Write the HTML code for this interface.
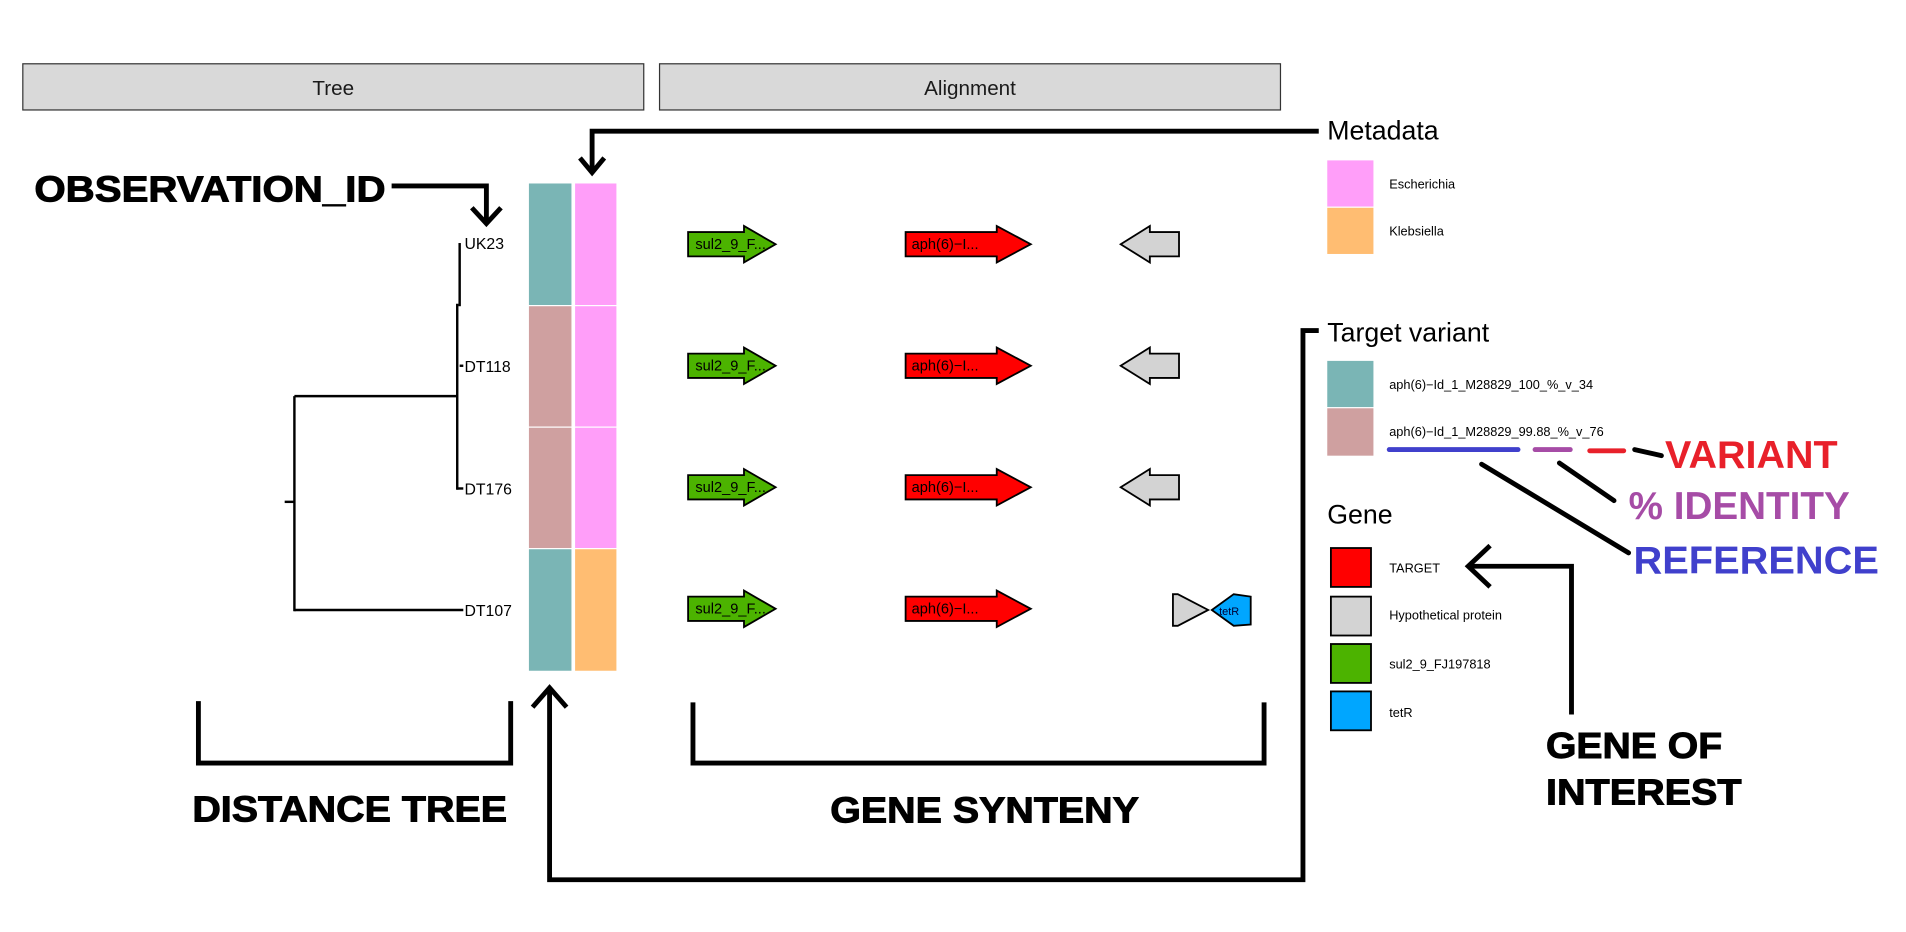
<!DOCTYPE html>
<html><head><meta charset="utf-8"><style>html,body{margin:0;padding:0;background:#fff;overflow:hidden}svg{display:block}</style></head>
<body>
<svg width="1906" height="932" viewBox="0 0 1568 767" xmlns="http://www.w3.org/2000/svg" font-family="'Liberation Sans', sans-serif">
<rect width="1568" height="767" fill="#fff"/>
<rect x="18.5" y="52.5" width="511" height="38" fill="#d9d9d9" stroke="#333" stroke-width="1"/>
<text x="274" y="78" font-size="17" text-anchor="middle" fill="#1a1a1a">Tree</text>
<rect x="542.5" y="52.5" width="511" height="38" fill="#d9d9d9" stroke="#333" stroke-width="1"/>
<text x="798" y="78" font-size="17" text-anchor="middle" fill="#1a1a1a">Alignment</text>

<polyline points="1085,108 487,108 487,142" fill="none" stroke="#000" stroke-width="4"/>
<polyline points="477,130 487,142 497,130" fill="none" stroke="#000" stroke-width="4"/>
<text x="28" y="166" font-size="30" font-weight="bold" stroke="#000" stroke-width="0.8" textLength="289" lengthAdjust="spacingAndGlyphs">OBSERVATION_ID</text>
<polyline points="322,153 400,153 400,184" fill="none" stroke="#000" stroke-width="4"/>
<polyline points="388,171 400,184 412,171" fill="none" stroke="#000" stroke-width="4"/>

<g stroke="#000" stroke-width="2" fill="none">
<line x1="234" y1="413" x2="242" y2="413"/>
<line x1="242" y1="326" x2="242" y2="503"/>
<line x1="242" y1="326" x2="376" y2="326"/>
<line x1="242" y1="502" x2="381" y2="502"/>
<line x1="376" y1="250" x2="376" y2="403"/>
<line x1="378" y1="200" x2="378" y2="252"/>
<line x1="376" y1="402" x2="381" y2="402"/>
<line x1="378" y1="301" x2="381" y2="301"/>
</g>
<g font-size="13" fill="#000">
<text x="382" y="205">UK23</text>
<text x="382" y="306">DT118</text>
<text x="382" y="407">DT176</text>
<text x="382" y="507">DT107</text>
</g>

<rect x="435" y="151" width="35" height="100" fill="#7ab5b5"/>
<rect x="435" y="252" width="35" height="99" fill="#cfa0a0"/>
<rect x="435" y="352" width="35" height="99" fill="#cfa0a0"/>
<rect x="435" y="452" width="35" height="100" fill="#7ab5b5"/>
<rect x="473" y="151" width="34" height="100" fill="#ff9ef9"/>
<rect x="473" y="252" width="34" height="99" fill="#ff9ef9"/>
<rect x="473" y="352" width="34" height="99" fill="#ff9ef9"/>
<rect x="473" y="452" width="34" height="100" fill="#ffbd72"/>

<defs>
<g id="row">
<polygon points="566,-10 612,-10 612,-15 638,0 612,15 612,10 566,10" fill="#4cb300" stroke="#000" stroke-width="1.5"/>
<text x="572" y="4" font-size="12" fill="#000">sul2_9_F...</text>
<polygon points="745,-10 820,-10 820,-15 848,0 820,15 820,10 745,10" fill="#ff0000" stroke="#000" stroke-width="1.5"/>
<text x="750" y="4" font-size="12" fill="#000">aph(6)−I...</text>
</g>
<polygon id="grey" points="970,-10 946,-10 946,-15 922,0 946,15 946,10 970,10" fill="#d3d3d3" stroke="#000" stroke-width="1.5"/>
</defs>
<use href="#row" y="201"/><use href="#grey" y="201"/>
<use href="#row" y="301"/><use href="#grey" y="301"/>
<use href="#row" y="401"/><use href="#grey" y="401"/>
<use href="#row" y="501"/>
<polygon points="965,489 969,489 994,502 969,515 965,515" fill="#d3d3d3" stroke="#000" stroke-width="1.5"/>
<polygon points="1029,491 1029,514 1015,515 997,502 1015,489" fill="#00a6ff" stroke="#000" stroke-width="1.5"/>
<text x="1003" y="506" font-size="9" fill="#003">tetR</text>

<polyline points="163,577 163,628 420,628 420,577" fill="none" stroke="#000" stroke-width="4"/>
<text x="158" y="676" font-size="30" font-weight="bold" stroke="#000" stroke-width="0.8" textLength="259" lengthAdjust="spacingAndGlyphs">DISTANCE TREE</text>
<polyline points="570,578 570,628 1040,628 1040,578" fill="none" stroke="#000" stroke-width="4"/>
<text x="683" y="677" font-size="30" font-weight="bold" stroke="#000" stroke-width="0.8" textLength="254" lengthAdjust="spacingAndGlyphs">GENE SYNTENY</text>

<polyline points="1085,272 1072,272 1072,724 452,724 452,566" fill="none" stroke="#000" stroke-width="4"/>
<polyline points="438,582 452,566 466,582" fill="none" stroke="#000" stroke-width="4"/>

<text x="1092" y="115" font-size="22">Metadata</text>
<rect x="1092" y="132" width="38" height="38" fill="#ff9ef9"/>
<rect x="1092" y="171" width="38" height="38" fill="#ffbd72"/>
<text x="1143" y="155" font-size="10.5">Escherichia</text>
<text x="1143" y="194" font-size="10.5">Klebsiella</text>

<text x="1092" y="281" font-size="22">Target variant</text>
<rect x="1092" y="297" width="38" height="38" fill="#7ab5b5"/>
<rect x="1092" y="336" width="38" height="39" fill="#cfa0a0"/>
<text x="1143" y="320" font-size="10.5">aph(6)−Id_1_M28829_100_%_v_34</text>
<text x="1143" y="359" font-size="10.5">aph(6)−Id_1_M28829_99.88_%_v_76</text>
<g stroke-width="4" stroke-linecap="round">
<line x1="1143" y1="370" x2="1249" y2="370" stroke="#4040cc"/>
<line x1="1263" y1="370" x2="1292" y2="370" stroke="#a64ca6"/>
<line x1="1308" y1="371" x2="1336" y2="371" stroke="#e8202a"/>
<line x1="1345" y1="370" x2="1367" y2="375" stroke="#000"/>
<line x1="1283" y1="381" x2="1328" y2="412" stroke="#000"/>
<line x1="1219" y1="382" x2="1340" y2="455" stroke="#000"/>
</g>
<text x="1370" y="385" font-size="32" font-weight="bold" fill="#e8202a" textLength="142" lengthAdjust="spacingAndGlyphs">VARIANT</text>
<text x="1340" y="427" font-size="32" font-weight="bold" fill="#a64ca6" textLength="182" lengthAdjust="spacingAndGlyphs">% IDENTITY</text>
<text x="1344" y="472" font-size="32" font-weight="bold" fill="#4040cc" textLength="202" lengthAdjust="spacingAndGlyphs">REFERENCE</text>

<text x="1092" y="431" font-size="22">Gene</text>
<g stroke="#000" stroke-width="1.5">
<rect x="1095" y="451" width="33" height="32" fill="#ff0000"/>
<rect x="1095" y="491" width="33" height="32" fill="#d3d3d3"/>
<rect x="1095" y="530" width="33" height="32" fill="#4cb300"/>
<rect x="1095" y="569" width="33" height="32" fill="#00a6ff"/>
</g>
<g font-size="10.5">
<text x="1143" y="471">TARGET</text>
<text x="1143" y="510">Hypothetical protein</text>
<text x="1143" y="550">sul2_9_FJ197818</text>
<text x="1143" y="590">tetR</text>
</g>
<polyline points="1293,588 1293,466 1208,466" fill="none" stroke="#000" stroke-width="4"/>
<polyline points="1226,449 1208,466 1226,483" fill="none" stroke="#000" stroke-width="4"/>
<text x="1272" y="624" font-size="30" font-weight="bold" stroke="#000" stroke-width="0.8" textLength="145" lengthAdjust="spacingAndGlyphs">GENE OF</text>
<text x="1272" y="662" font-size="30" font-weight="bold" stroke="#000" stroke-width="0.8" textLength="161" lengthAdjust="spacingAndGlyphs">INTEREST</text>
</svg>
</body></html>
